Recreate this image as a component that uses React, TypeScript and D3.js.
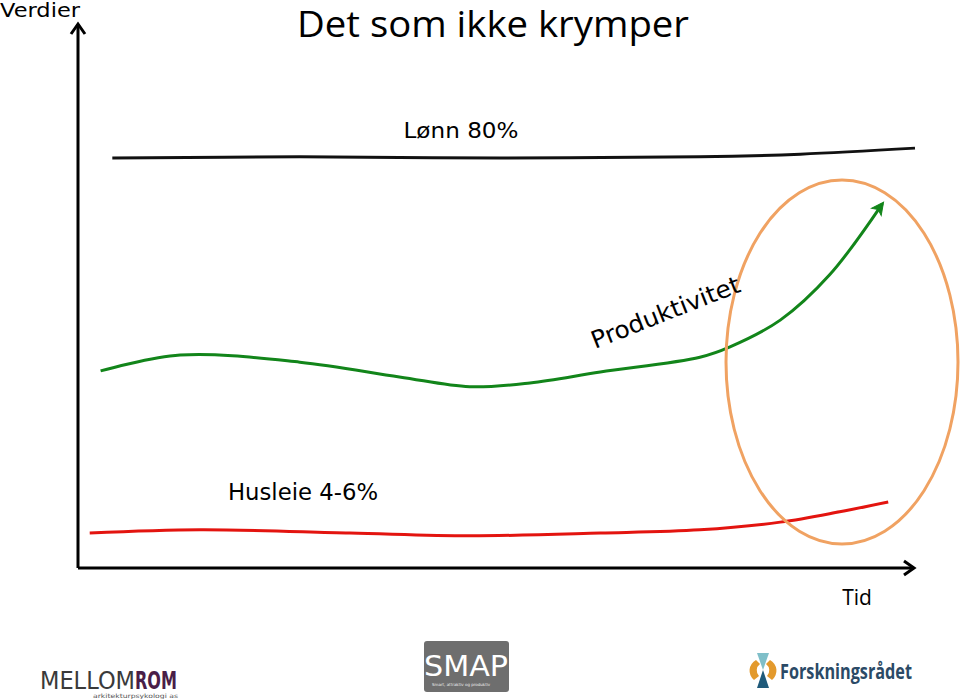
import React from "react";
import * as d3 from "d3";

const W = 960;
const H = 699;

// Data in abstract units (time 0-100, value 0-100)
const lonnT = [4.1, 26.5, 50.4, 74.3, 86.3, 100];
const lonnV = [75.1, 75.3, 75.1, 75.3, 75.8, 76.9];

const prodT = [2.7, 12.2, 26.5, 38.4, 46.8, 54.0, 62.4, 74.3, 77.9, 83.9, 89.8, 96.1];
const prodV = [36.1, 39.0, 37.7, 35.0, 33.2, 33.9, 35.9, 38.6, 40.5, 45.4, 53.7, 66.7];

const husT = [1.4, 14.6, 32.5, 46.8, 62.4, 74.3, 83.9, 91.0, 96.8];
const husV = [6.4, 7.0, 6.4, 5.9, 6.4, 7.0, 8.4, 10.3, 12.1];

const labels = {
  title: "Det som ikke krymper",
  yAxis: "Verdier",
  xAxis: "Tid",
  lonn: "Lønn 80%",
  prod: "Produktivitet",
  hus: "Husleie 4-6%",
};

const x = d3.scaleLinear().domain([0, 100]).range([78, 915]);
const y = d3.scaleLinear().domain([0, 100]).range([568, 22]);

const line = d3
  .line<[number, number]>()
  .x((d) => x(d[0]))
  .y((d) => y(d[1]))
  .curve(d3.curveCatmullRom.alpha(0.5));

const zip = (a: number[], b: number[]) => a.map((v, i) => [v, b[i]] as [number, number]);

export default function App() {
  const lonnPath = line(zip(lonnT, lonnV)) || "";
  const prodPath = line(zip(prodT, prodV)) || "";
  const husPath = line(zip(husT, husV)) || "";
  const pEnd = [x(prodT[prodT.length - 1]), y(prodV[prodV.length - 1])];
  const pPrev = [x(prodT[prodT.length - 2]), y(prodV[prodV.length - 2])];
  const ang = (Math.atan2(pEnd[1] - pPrev[1], pEnd[0] - pPrev[0]) * 180) / Math.PI;
  const font = "'DejaVu Sans', sans-serif";
  const calibri = "'Open Sans', 'Noto Sans', sans-serif";
  return (
    <svg
      width={W}
      height={H}
      style={{ position: "absolute", left: 0, top: 0, background: "#fff" }}
    >
      {/* Axes */}
      <line x1={x(0)} y1={y(0)} x2={x(0)} y2={y(100) + 2} stroke="#000" strokeWidth={3} />
      <polyline
        points={`${x(0) - 7},${y(100) + 12} ${x(0)},${y(100) + 2} ${x(0) + 7},${y(100) + 12}`}
        fill="none"
        stroke="#000"
        strokeWidth={3}
      />
      <line x1={x(0)} y1={y(0)} x2={x(100) - 1} y2={y(0)} stroke="#000" strokeWidth={3} />
      <polyline
        points={`${x(100) - 11},${y(0) - 7} ${x(100) - 1},${y(0)} ${x(100) - 11},${y(0) + 7}`}
        fill="none"
        stroke="#000"
        strokeWidth={3}
      />

      {/* Series */}
      <path d={lonnPath} fill="none" stroke="#111" strokeWidth={3} />
      <path d={husPath} fill="none" stroke="#e3140f" strokeWidth={3} />
      <path d={prodPath} fill="none" stroke="#12851a" strokeWidth={3} />
      <g transform={`translate(${pEnd[0]},${pEnd[1]}) rotate(${ang})`}>
        <path d="M2,0 L-10,-6 L-7,0 L-10,6 Z" fill="#12851a" stroke="#12851a" strokeWidth={1} />
      </g>

      {/* Highlight ellipse */}
      <ellipse cx={842} cy={362} rx={116} ry={182} fill="none" stroke="#f0a262" strokeWidth={3} />

      {/* Texts */}
      <text x={493} y={37} textAnchor="middle" fontFamily={calibri} fontSize={37} fill="#000" textLength={392} lengthAdjust="spacingAndGlyphs">
        {labels.title}
      </text>
      <text x={0} y={17} fontFamily={font} fontSize={20} fill="#000" textLength={80} lengthAdjust="spacingAndGlyphs">
        {labels.yAxis}
      </text>
      <text x={857} y={605} textAnchor="middle" fontFamily={calibri} fontSize={21} fill="#000">
        {labels.xAxis}
      </text>
      <text x={461} y={138} textAnchor="middle" fontFamily={font} fontSize={22} fill="#000" textLength={115} lengthAdjust="spacingAndGlyphs">
        {labels.lonn}
      </text>
      <text x={303} y={500} textAnchor="middle" fontFamily={font} fontSize={23} fill="#000" textLength={150} lengthAdjust="spacingAndGlyphs">
        {labels.hus}
      </text>
      <text
        transform="translate(595,349) rotate(-21.5)"
        fontFamily={font}
        fontSize={24}
        fill="#000"
        textLength={158}
        lengthAdjust="spacingAndGlyphs"
      >
        {labels.prod}
      </text>

      {/* Logos */}
      <g>
        <text x={40} y={689} fontFamily={font} fontSize={24} fill="#3a3a3a" textLength={95} lengthAdjust="spacingAndGlyphs">
          MELLOM
        </text>
        <text x={135} y={689} fontFamily={font} fontSize={24} fontWeight="bold" fill="#4a1e48" textLength={42} lengthAdjust="spacingAndGlyphs">
          ROM
        </text>
        <text x={93} y={698} fontFamily={font} fontSize={6} fill="#555" textLength={85} lengthAdjust="spacingAndGlyphs">
          arkitekturpsykologi as
        </text>
      </g>
      <g>
        <rect x={424} y={641} width={85} height={51} rx={3} fill="#6e6e6e" />
        <text x={466} y={676} textAnchor="middle" fontFamily={font} fontSize={29} fill="#fff" textLength={84} lengthAdjust="spacingAndGlyphs">
          SMAP
        </text>
        <text x={432} y={686} fontFamily={font} fontSize={4} fill="#eee">
          Smart, attraktiv og produktiv
        </text>
      </g>
      <g>
        <path d="M757,653 L769,653 L763,670 Z" fill="#7fbfc9" />
        <path d="M763,670 L769,688 L757,688 Z" fill="#1f5a7a" />
        <path d="M756,660 A12,12 0 0 0 754,680 L759,676 A8,8 0 0 1 760,664 Z" fill="#e39a2d" />
        <path d="M770,660 A12,12 0 0 1 772,680 L767,676 A8,8 0 0 0 766,664 Z" fill="#e39a2d" />
        <text x={780} y={679} fontFamily={calibri} fontSize={22} fontWeight="bold" fill="#2b4a66" textLength={132} lengthAdjust="spacingAndGlyphs">
          Forskningsrådet
        </text>
      </g>
    </svg>
  );
}
